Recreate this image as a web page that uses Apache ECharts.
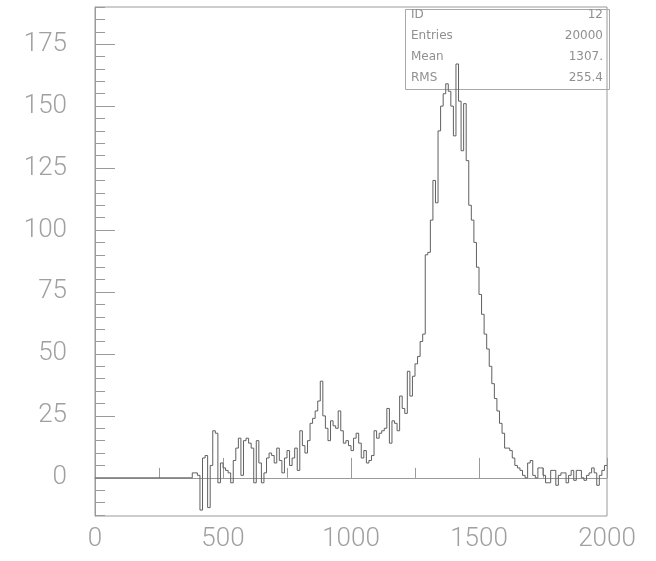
<!DOCTYPE html>
<html>
<head>
<meta charset="utf-8">
<script src="https://cdn.jsdelivr.net/npm/echarts@6/dist/echarts.min.js"></script>
<style>html,body{margin:0;padding:0;background:#fff;}#c{width:656px;height:561px;}</style>
</head>
<body>
<div id="c"></div>
<script>
// Histogram ID 12: bins of width 10 starting at 380 (bins below 380 are empty)
const binStart = 380;
const binWidth = 10;
const counts = [
  2, 2, 1, -13, 8, 9, -12, 5, 19, 18,          // 380-470
  -2, 6, 4, 3, 2, -2, 7, 12, 16, 1,           // 480-570
  15, 16, 14, 12, -2, 15, 6, -2, 2, 8,        // 580-670
  10, 9, 6, 12, 7, 2, 8, 11, 5, 8,            // 680-770
  12, 3, 19, 13, 10, 15, 22, 24, 27, 31,      // 780-870
  39, 25, 20, 15, 23, 21, 20, 27, 19, 14,     // 880-970
  15, 13, 11, 16, 18, 14, 8, 11, 6, 7,        // 980-1070
  9, 19, 16, 18, 19, 20, 28, 14, 23, 22,      // 1080-1170
  19, 33, 28, 26, 43, 33, 41, 46, 49, 55,     // 1180-1270
  58, 90, 91, 104, 120, 111, 140, 150, 155, 159, // 1280-1370
  156, 150, 138, 167, 152, 132, 151, 128, 110, 104, // 1380-1470
  95, 85, 74, 66, 58, 52, 45, 38, 32, 27,     // 1480-1570
  22, 18, 12, 12, 11, 8, 5, 4, 3, 1,          // 1580-1670
  0, 6, 7, 1, 0, 4, 4, 1, -2, -2,             // 1680-1770
  3, 3, -3, 1, 2, 2, -2, 1, 3, -1,            // 1780-1870
  3, 3, 0, -1, 1, 2, 4, 2, -3, 1,             // 1880-1970
  3, 5                                         // 1980-1990
];
const xTickLabels = [0, 500, 1000, 1500, 2000];
const yTickLabels = [0, 25, 50, 75, 100, 125, 150, 175];
const yMinorTicks = [-15, -10, -5, 0, 5, 10, 15, 20, 25, 30, 35, 40, 45, 50, 55, 60, 65, 70, 75, 80, 85, 90, 95, 100, 105, 110, 115, 120, 125, 130, 135, 140, 145, 150, 155, 160, 165, 170, 175, 180, 185, 190];
const xMinorTicks = [0, 250, 500, 750, 1000, 1250, 1500, 1750, 2000];
const statNames = ['ID', 'Entries', 'Mean', 'RMS'];
const statValues = ['12', '20000', '1307.', '255.4'];

// build step contour
const pts = [[0, 0]];
counts.forEach((v, i) => pts.push([binStart + i * binWidth, v]));
pts.push([binStart + counts.length * binWidth, counts[counts.length - 1]]);

const axisGray = '#9a9a9a';
const labelStyle = { color: '#a0a0a0', fontSize: 26, fontFamily: 'Roboto', fontWeight: 300, formatter: v => String(v) };

const chart = echarts.init(document.getElementById('c'), null, { renderer: 'canvas' });

const graphics = [{
  type: 'rect', left: 403, top: 7, z: 1,
  shape: { width: 204, height: 80 },
  style: { fill: 'none', stroke: '#a8a8a8', lineWidth: 1 }
}];
statNames.forEach((n, i) => {
  graphics.push({ type: 'text', left: 411, top: 9 + i * 21, z: 1,
    style: { text: n, fill: '#909090', fontSize: 12, fontFamily: 'DejaVu Sans' } });
  graphics.push({ type: 'text', right: 656 - 603, top: 9 + i * 21, z: 1,
    style: { text: statValues[i], fill: '#909090', fontSize: 12, fontFamily: 'DejaVu Sans', align: 'right' } });
});

chart.setOption({
  animation: false,
  backgroundColor: '#fff',
  grid: { left: 95, right: 49, top: 7, bottom: 45, show: true, borderColor: axisGray, borderWidth: 1, backgroundColor: 'transparent' },
  xAxis: [{
    type: 'value', min: 0, max: 2000,
    axisLine: { show: true, lineStyle: { color: axisGray } },
    axisTick: { show: true, inside: true, length: 20, customValues: xTickLabels, lineStyle: { color: axisGray } },
    splitLine: { show: false },
    axisLabel: Object.assign({ margin: 10, showMinLabel: true, showMaxLabel: true, customValues: xTickLabels }, labelStyle)
  }, {
    type: 'value', min: 0, max: 2000, position: 'bottom',
    axisLine: { show: false },
    axisTick: { show: true, inside: true, length: 10, customValues: xMinorTicks, lineStyle: { color: axisGray } },
    splitLine: { show: false },
    axisLabel: { show: false }
  }],
  yAxis: [{
    type: 'value', min: -15.4, max: 190,
    axisLine: { show: true, lineStyle: { color: axisGray } },
    axisTick: { show: true, inside: true, length: 20, customValues: yTickLabels, lineStyle: { color: axisGray } },
    splitLine: { show: false },
    axisLabel: Object.assign({ margin: 28, customValues: yTickLabels }, labelStyle)
  }, {
    type: 'value', min: -15.4, max: 190, position: 'left',
    axisLine: { show: false },
    axisTick: { show: true, inside: true, length: 10, customValues: yMinorTicks, lineStyle: { color: axisGray } },
    splitLine: { show: false },
    axisLabel: { show: false }
  }],
  graphic: graphics,
  series: [{
    type: 'line', step: 'end', data: pts, xAxisIndex: 0, yAxisIndex: 0,
    symbol: 'none', z: 5,
    lineStyle: { color: '#606060', width: 1 }
  }]
});
</script>
</body>
</html>
